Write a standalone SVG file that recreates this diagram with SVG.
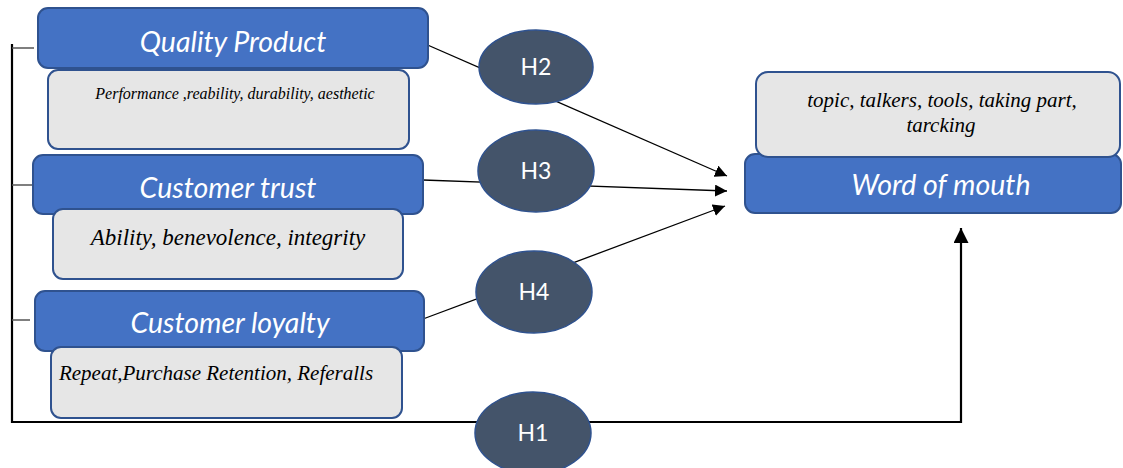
<svg xmlns="http://www.w3.org/2000/svg" width="1123" height="468" viewBox="0 0 1123 468">
<style>
.blue{fill:#4472C4;stroke:#2F528F;stroke-width:2}
.gray{fill:#E6E6E6;stroke:#2F528F;stroke-width:2}
.hyp{fill:#44546A;stroke:#2F528F;stroke-width:1.5}
.bt{font-family:Lato,"Open Sans",sans-serif;font-style:italic;font-size:28.5px;fill:#fff;text-anchor:middle}
.gt{font-family:"Liberation Serif","Times New Roman",serif;font-style:italic;fill:#000;text-anchor:middle}
.ht{font-family:Lato,"Open Sans",sans-serif;font-size:23px;fill:#fff;text-anchor:middle}
.ln{stroke:#000;stroke-width:1.3;fill:none}
.br{stroke:#000;stroke-width:2.2;fill:none}
.tk{stroke:#555;stroke-width:1.5;fill:none}
</style>
<defs>
<marker id="ah" viewBox="0 0 10 10" refX="10" refY="5" markerWidth="12" markerHeight="12" markerUnits="userSpaceOnUse" orient="auto"><path d="M0,0 L10,5 L0,10 z" fill="#000"/></marker>
<marker id="ah2" viewBox="0 0 10 10" refX="10" refY="5" markerWidth="15" markerHeight="15" markerUnits="userSpaceOnUse" orient="auto"><path d="M0,0 L10,5 L0,10 z" fill="#000"/></marker>
</defs>
<g id="connectors">
<line class="br" x1="12" y1="44" x2="12" y2="423"/>
<line class="tk" x1="12" y1="48" x2="34" y2="48"/>
<line class="tk" x1="12" y1="185" x2="33" y2="185"/>
<line class="tk" x1="12" y1="320" x2="30" y2="320"/>
<polyline class="br" points="11,422 961,422 961,228" marker-end="url(#ah2)"/>
<line class="ln" x1="423" y1="43" x2="727" y2="176" marker-end="url(#ah)"/>
<line class="ln" x1="423" y1="180" x2="727" y2="191" marker-end="url(#ah)"/>
<line class="ln" x1="423" y1="319" x2="725" y2="206" marker-end="url(#ah)"/>
</g>
<g id="quality-product">
<rect class="blue" x="38" y="8" width="390" height="60" rx="10"/>
<text class="bt" x="233" y="52">Quality Product</text>
</g>
<g id="quality-product-dims">
<rect class="gray" x="48" y="70" width="361" height="79" rx="10"/>
<text class="gt" x="235" y="99" font-size="16">Performance ,reability, durability, aesthetic</text>
</g>
<g id="customer-trust">
<rect class="blue" x="33" y="155" width="390" height="59" rx="10"/>
<text class="bt" x="228" y="198">Customer trust</text>
</g>
<g id="customer-trust-dims">
<rect class="gray" x="53" y="209" width="350" height="70" rx="10"/>
<text class="gt" x="228" y="245" font-size="23">Ability, benevolence, integrity</text>
</g>
<g id="customer-loyalty">
<rect class="blue" x="35" y="291" width="389" height="60" rx="10"/>
<text class="bt" x="230" y="333">Customer loyalty</text>
</g>
<g id="customer-loyalty-dims">
<rect class="gray" x="51" y="347" width="351" height="71" rx="10"/>
<text class="gt" x="216" y="380" font-size="21">Repeat,Purchase Retention, Referalls</text>
</g>
<g id="word-of-mouth">
<rect class="blue" x="745" y="154" width="376" height="59" rx="10"/>
<text class="bt" x="941" y="195">Word of mouth</text>
</g>
<g id="word-of-mouth-dims">
<rect class="gray" x="756" y="72" width="364" height="85" rx="12"/>
<text class="gt" x="942" y="107" font-size="21">topic, talkers, tools, taking part,</text>
<text class="gt" x="941" y="132" font-size="21">tarcking</text>
</g>
<g id="h2">
<ellipse class="hyp" cx="536" cy="67" rx="57" ry="37"/>
<text class="ht" x="536" y="75">H2</text>
</g>
<g id="h3">
<ellipse class="hyp" cx="536" cy="171" rx="58" ry="41"/>
<text class="ht" x="536" y="179">H3</text>
</g>
<g id="h4">
<ellipse class="hyp" cx="534" cy="292" rx="58" ry="41"/>
<text class="ht" x="534" y="300">H4</text>
</g>
<g id="h1">
<ellipse class="hyp" cx="533" cy="433" rx="58" ry="41"/>
<text class="ht" x="533" y="441">H1</text>
</g>
</svg>
